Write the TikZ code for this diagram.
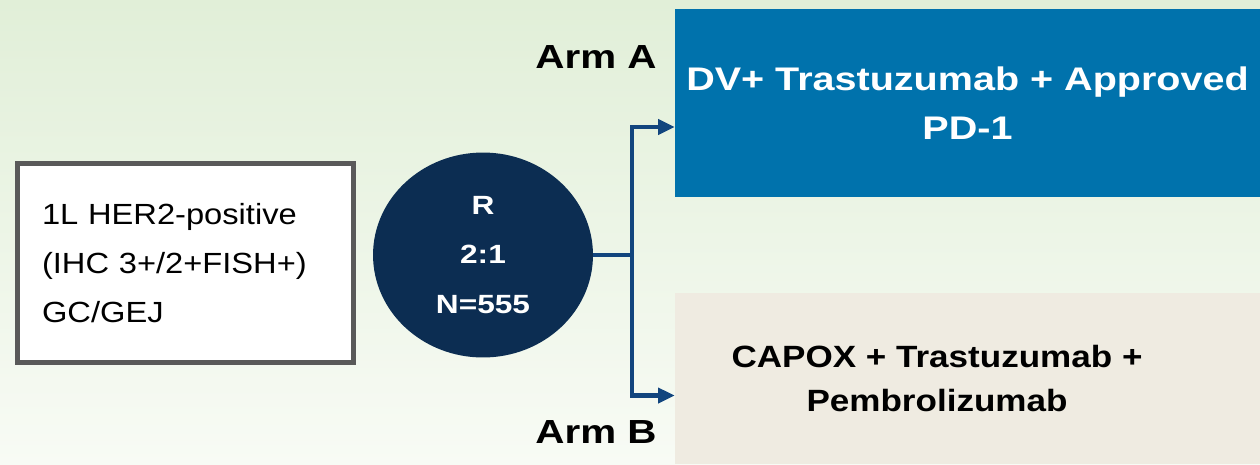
\documentclass[tikz,border=0pt]{standalone}
\usepackage{fontspec}
\setmainfont{Liberation Sans}
\newfontfamily\eligfont[FakeStretch=1.12]{Liberation Sans}
\newfontfamily\randfont[FakeStretch=1.20]{Liberation Sans}
\newfontfamily\armafont[FakeStretch=1.21]{Liberation Sans}
\newfontfamily\armbfont[FakeStretch=1.14]{Liberation Sans}
\newfontfamily\armlabelfont[FakeStretch=1.21]{Liberation Sans}
\usetikzlibrary{shapes.geometric,arrows.meta}
\usepackage{xcolor}
\definecolor{bgtop}{HTML}{E1EFD8}
\definecolor{bgbottom}{HTML}{F8FBF5}
\definecolor{boxgrey}{HTML}{595959}
\definecolor{randnavy}{HTML}{0C2D52}
\definecolor{linknavy}{HTML}{12457E}
\definecolor{armablue}{HTML}{0072AC}
\definecolor{armbbeige}{HTML}{EFEBE1}

\tikzset{
  armbox/.style={rectangle, inner sep=0pt, align=center},
  armlabel/.style={font=\armlabelfont\bfseries\fontsize{19}{22}\selectfont, inner sep=0pt},
  link/.style={linknavy, line width=2.3pt},
  linkarrow/.style={link, -{Triangle[length=9.5pt, width=8.5pt]}}
}

\begin{document}
\begin{tikzpicture}[x=0.02cm, y=-0.02cm]

  % Background canvas
  \shade[top color=bgtop, bottom color=bgbottom] (0,0) rectangle (1260,464);
  \useasboundingbox (0,0) rectangle (1260,464);

  % Eligibility box
  \node[draw=boxgrey, fill=white, line width=2.8pt, minimum width=6.72cm, minimum height=3.98cm,
        text width=5.74cm, align=left, inner sep=0pt, font=\eligfont\fontsize{16.6}{27.8}\selectfont]
    (elig) at (185.5,263) {1L HER2-positive\\(IHC 3+/2+FISH+)\\GC/GEJ};

  % Randomisation circle
  \node[ellipse, fill=randnavy, text=white, minimum width=4.4cm, minimum height=4.1cm, inner sep=0pt,
        align=center, font=\randfont\bfseries\fontsize{15}{28}\selectfont]
    (rand) at (483,255) {R\\2:1\\N=555};

  % Arm A box
  \node[armbox, fill=armablue, text=white, minimum width=11.7cm, minimum height=3.78cm,
        font=\armafont\bfseries\fontsize{18.6}{28}\selectfont]
    (armA) at (967.5,103) {DV+ Trastuzumab + Approved\\PD-1};

  % Arm B box (runs out past the right edge)
  \fill[armbbeige] (1190,293) rectangle (1260,464);
  \node[armbox, fill=armbbeige, text=black, minimum width=10.48cm, minimum height=3.42cm,
        font=\armbfont\bfseries\fontsize{17.5}{24.5}\selectfont]
    (armB) at (937,378.5) {CAPOX + Trastuzumab +\\Pembrolizumab};

  % Arm labels
  \node[armlabel] (labA) at (596,57) {Arm A};
  \node[armlabel] (labB) at (596,432) {Arm B};

  % Split arrows
  \coordinate (fork) at (632,255);
  \draw[link] (rand.east) -- (fork);
  \draw[linkarrow] (fork) |- ([yshift=-0.48cm]armA.west);
  \draw[linkarrow] (fork) |- ([yshift=-0.34cm]armB.west);

\end{tikzpicture}
\end{document}
